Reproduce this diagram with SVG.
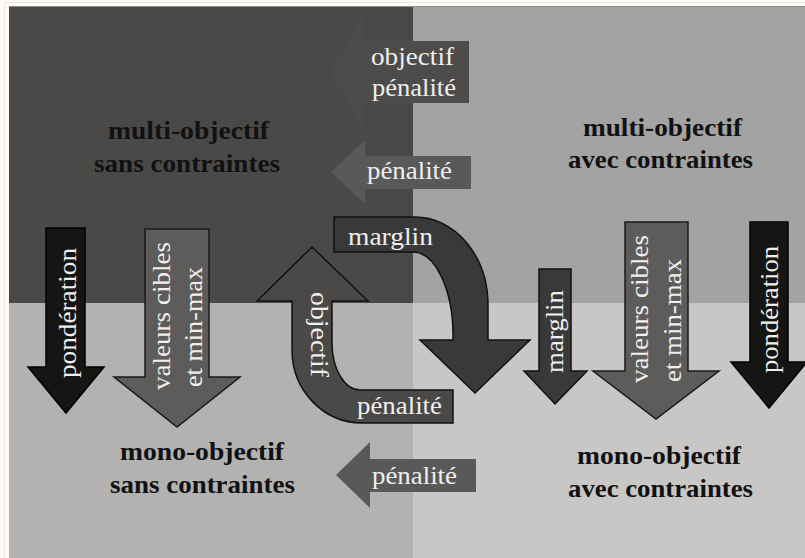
<svg xmlns="http://www.w3.org/2000/svg" width="805" height="558" viewBox="0 0 805 558">
  <style>
    .title { font-family: 'Liberation Serif', 'DejaVu Serif', serif; font-size: 25px; font-weight: bold; fill: #111111; }
    .lbl { font-family: 'Liberation Serif', 'DejaVu Serif', serif; font-size: 26px; fill: #efefef; }
    .black { fill: #151513; stroke: #000000; stroke-width: 1.5; stroke-linejoin: miter; }
    .mid { fill: #5d5c5b; stroke: #1a1a1a; stroke-width: 1.5; }
    .dark { fill: #3a3939; stroke: #111111; stroke-width: 1.5; }
    .loop { fill: #4a4948; stroke: #111111; stroke-width: 1.5; }
    .flat { fill: #5a5959; }
    .ghost { fill: #4d4c4b; }
  </style>

  <!-- page background and frame -->
  <rect x="0" y="0" width="805" height="558" fill="#fcfbf7"/>
  <rect x="4.5" y="2.5" width="810" height="570" fill="none" stroke="#ece7da" stroke-width="1"/>

  <!-- four quadrants -->
  <g id="quadrants">
    <rect x="9" y="6" width="404" height="297" fill="#4a4948"/>
    <rect x="413" y="6" width="392" height="297" fill="#a3a3a3"/>
    <rect x="9" y="303" width="404" height="255" fill="#b3b2b1"/>
    <rect x="413" y="303" width="392" height="255" fill="#c8c7c6"/>
    <line x1="9" y1="6.5" x2="805" y2="6.5" stroke="#8e8e8e" stroke-width="1"/>
  </g>

  <!-- quadrant labels -->
  <g id="multi-sans">
    <text class="title" x="108" y="139" textLength="161" lengthAdjust="spacingAndGlyphs">multi-objectif</text>
    <text class="title" x="94" y="172" textLength="186" lengthAdjust="spacingAndGlyphs">sans contraintes</text>
  </g>
  <g id="multi-avec">
    <text class="title" x="583" y="136" textLength="159" lengthAdjust="spacingAndGlyphs">multi-objectif</text>
    <text class="title" x="568" y="168" textLength="185" lengthAdjust="spacingAndGlyphs">avec contraintes</text>
  </g>
  <g id="mono-sans">
    <text class="title" x="120" y="460" textLength="164" lengthAdjust="spacingAndGlyphs">mono-objectif</text>
    <text class="title" x="110" y="493" textLength="185" lengthAdjust="spacingAndGlyphs">sans contraintes</text>
  </g>
  <g id="mono-avec">
    <text class="title" x="577" y="464" textLength="164" lengthAdjust="spacingAndGlyphs">mono-objectif</text>
    <text class="title" x="568" y="497" textLength="185" lengthAdjust="spacingAndGlyphs">avec contraintes</text>
  </g>

  <!-- transformation arrows -->
  <g id="connectors">
    <!-- faint top arrow -->
    <polygon class="ghost" points="469,41 469,103 363,103 363,131 331,72 363,13 363,41"/>
    <text class="lbl" x="371" y="65" textLength="83" lengthAdjust="spacingAndGlyphs">objectif</text>
    <text class="lbl" x="372" y="96" textLength="84" lengthAdjust="spacingAndGlyphs">pénalité</text>

    <!-- pénalité, upper -->
    <polygon class="flat" points="471,156 471,189 365,189 365,204 331,172 365,140 365,156"/>
    <text class="lbl" x="367" y="179" textLength="85" lengthAdjust="spacingAndGlyphs">pénalité</text>

    <!-- pénalité, lower -->
    <polygon class="flat" points="476,459 476,492 370,492 370,508 336,475 370,442 370,459"/>
    <text class="lbl" x="372" y="484" textLength="85" lengthAdjust="spacingAndGlyphs">pénalité</text>

    <!-- left column -->
    <polygon class="black" points="46,228 85,228 85,367 104,367 66,413 28,367 46,367"/>
    <text class="lbl" transform="translate(76,378) rotate(-90)" textLength="130" lengthAdjust="spacingAndGlyphs">pondération</text>

    <polygon class="mid" points="145,229 209,229 209,377 240,377 177,427 114,377 145,377"/>
    <text class="lbl" transform="translate(170,390) rotate(-90)" textLength="148" lengthAdjust="spacingAndGlyphs">valeurs cibles</text>
    <text class="lbl" transform="translate(202,387) rotate(-90)" textLength="120" lengthAdjust="spacingAndGlyphs">et min-max</text>

    <!-- centre loop -->
    <path class="dark" d="M334,217 L415,217 A73,88 0 0 1 488,305 L488,340 L530,340 L475,393 L420,340 L453,340 L453,335 A40,83 0 0 0 413,252 L334,252 Z"/>
    <text class="lbl" x="348" y="245" textLength="85" lengthAdjust="spacingAndGlyphs">marglin</text>

    <path class="loop" d="M312,247 L368,301 L332,301 L332,343 A28,47 0 0 0 360,390 L453,390 L453,423 L362,423 A70,73 0 0 1 292,350 L292,301 L257,301 Z"/>
    <text class="lbl" transform="translate(311,292) rotate(90)" textLength="85" lengthAdjust="spacingAndGlyphs">objectif</text>
    <text class="lbl" x="357" y="414" textLength="85" lengthAdjust="spacingAndGlyphs">pénalité</text>

    <!-- right column -->
    <polygon class="dark" points="539,269 571,269 571,371 587,371 555,404 524,371 539,371"/>
    <text class="lbl" transform="translate(563,373) rotate(-90)" textLength="83" lengthAdjust="spacingAndGlyphs">marglin</text>

    <polygon class="mid" points="625,222 688,222 688,371 719,371 656,419 593,371 625,371"/>
    <text class="lbl" transform="translate(648,383) rotate(-90)" textLength="148" lengthAdjust="spacingAndGlyphs">valeurs cibles</text>
    <text class="lbl" transform="translate(681,382) rotate(-90)" textLength="123" lengthAdjust="spacingAndGlyphs">et min-max</text>

    <polygon class="black" points="750,222 788,222 788,362 807,362 769,408 731,362 750,362"/>
    <text class="lbl" transform="translate(778,373) rotate(-90)" textLength="127" lengthAdjust="spacingAndGlyphs">pondération</text>
  </g>
</svg>
